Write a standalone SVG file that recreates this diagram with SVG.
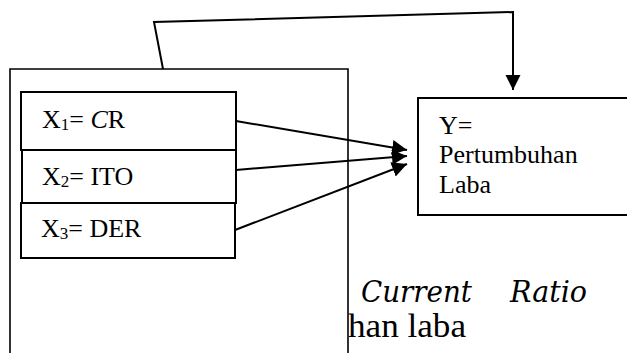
<svg xmlns="http://www.w3.org/2000/svg" width="627" height="353" viewBox="0 0 627 353">
  <style>
    .box { fill: #ffffff; stroke: #000000; stroke-width: 2; }
    .outer { fill: none; stroke: #000000; stroke-width: 1.6; }
    .lbl { font-family: "Liberation Serif", "Times New Roman", serif; font-size: 26px; fill: #000000; }
    .sub { font-size: 17px; }
    .conn { fill: none; stroke: #000000; stroke-width: 2; }
    .para { font-family: "Liberation Serif", "Times New Roman", serif; font-size: 33px; fill: #000000; }
    .paraI { font-family: "DejaVu Serif", Georgia, serif; font-style: italic; font-size: 29px; fill: #000000; }
  </style>
  <defs>
    <marker id="arrow" markerUnits="userSpaceOnUse" markerWidth="16" markerHeight="16" refX="15" refY="7.5" orient="auto">
      <path d="M0,0 L15,7.5 L0,15 Z" fill="#000000"/>
    </marker>
  </defs>
  <rect width="627" height="353" fill="#ffffff"/>

  <g id="paragraph-text">
    <text class="paraI" x="361" y="302" textLength="111" lengthAdjust="spacingAndGlyphs">Current</text>
    <text class="paraI" x="510" y="302" textLength="77" lengthAdjust="spacingAndGlyphs">Ratio</text>
    <text class="para" x="348" y="337" textLength="118" lengthAdjust="spacingAndGlyphs">han laba</text>
  </g>

  <g id="group-x">
    <path class="outer" d="M10,360 L10,69 L348,69 L348,360"/>
  </g>

  <g id="node-x1">
    <rect class="box" x="21" y="92" width="215" height="58"/>
    <text class="lbl" x="42" y="128">X<tspan class="sub" dy="2">1</tspan><tspan dy="-2">= </tspan><tspan font-style="italic">C</tspan>R</text>
  </g>
  <g id="node-x2">
    <rect class="box" x="22" y="150" width="214" height="53"/>
    <text class="lbl" x="42" y="185">X<tspan class="sub" dy="2">2</tspan><tspan dy="-2">= ITO</tspan></text>
  </g>
  <g id="node-x3">
    <rect class="box" x="21" y="203" width="214" height="55"/>
    <text class="lbl" x="41" y="237">X<tspan class="sub" dy="2">3</tspan><tspan dy="-2">= DER</tspan></text>
  </g>

  <g id="node-y">
    <rect class="box" x="418" y="98" width="230" height="117"/>
    <text class="lbl" x="439" y="134">Y=</text>
    <text class="lbl" x="439" y="163">Pertumbuhan</text>
    <text class="lbl" x="439" y="193">Laba</text>
  </g>

  <g id="connectors">
    <path class="conn" d="M163,69 L154,22 L513,12 L513,90" marker-end="url(#arrow)"/>
    <path class="conn" d="M236,121 L407,150" marker-end="url(#arrow)"/>
    <path class="conn" d="M236,170 L407,156" marker-end="url(#arrow)"/>
    <path class="conn" d="M235,230 L407,164" marker-end="url(#arrow)"/>
  </g>
</svg>
